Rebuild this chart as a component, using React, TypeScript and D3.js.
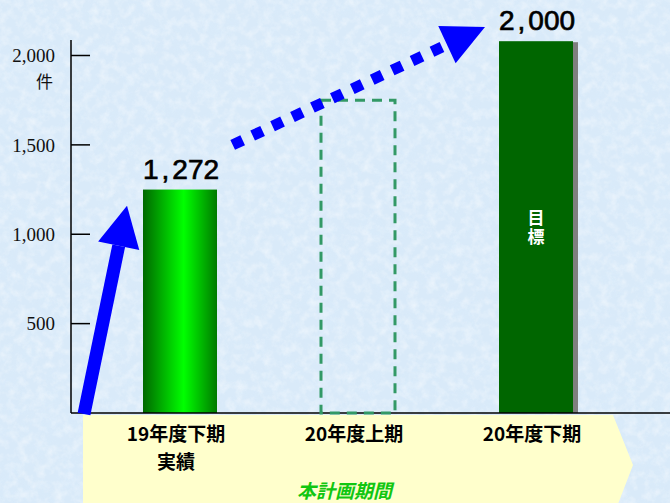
import React from "react";
import * as d3 from "d3";

const W = 670;
const H = 503;

const categories = ["19年度下期", "20年度上期", "20年度下期"];
const subLabels = ["実績", "", ""];
const barValues = [1250, 1750, 2080];
const valueLabels = ["1,272", "", "2,000"];
const barKinds = ["actual", "plan", "target"];
const yTicks = [500, 1000, 1500, 2000];
const periodLabel = "本計画期間";
const unitLabel = "件";
const targetLabel = "目標";

// arrows in data space: [y-value start, y-value end]
const solidArrowValues = [0, 1160];
const dottedArrowValues = [1500, 2160];

export default function App() {
  const y = d3.scaleLinear().domain([0, 2000]).range([413, 55.5]);
  const xCat = d3.scalePoint<string>().domain(categories).range([176, 532]);
  const barW = 74;
  const barOffset = 4;
  const axisX = 71;
  const fmt = d3.format(",");

  const arrowHead = (x1: number, y1: number, x2: number, y2: number, len: number, wid: number) => {
    const dx = x2 - x1, dy = y2 - y1;
    const L = Math.hypot(dx, dy);
    const ux = dx / L, uy = dy / L;
    const bx = x2 - ux * len, by = y2 - uy * len;
    const px = -uy, py = ux;
    return {
      base: [bx, by],
      path: d3.line()([
        [x2, y2],
        [bx + px * wid / 2, by + py * wid / 2],
        [bx - px * wid / 2, by - py * wid / 2],
      ]) + "Z",
    };
  };

  const s1 = [84, y(solidArrowValues[0]) + 1];
  const e1 = [127, y(solidArrowValues[1])];
  const h1 = arrowHead(s1[0], s1[1], e1[0], e1[1], 41, 42);

  const s2 = [232.7, y(dottedArrowValues[0])];
  const e2 = [485, y(dottedArrowValues[1])];
  const h2 = arrowHead(s2[0], s2[1], e2[0], e2[1], 42, 41);

  const pent = d3.line()([
    [83, 415],
    [613, 415],
    [633, 465],
    [613, 517],
    [83, 517],
  ]) + "Z";

  const splitComma = (s: string) => {
    const parts = s.split(",");
    return parts.map((p, k) => (
      <React.Fragment key={k}>
        {k > 0 ? <tspan dx={3}>,</tspan> : null}
        <tspan dx={k > 0 ? 3 : 0}>{p}</tspan>
      </React.Fragment>
    ));
  };

  return (
    <svg width={W} height={H} style={{ position: "absolute", left: 0, top: 0, display: "block" }}>
      <defs>
        <filter id="tex" x="0" y="0" width="100%" height="100%">
          <feTurbulence type="fractalNoise" baseFrequency="0.11" numOctaves="3" seed="7" result="n" />
          <feColorMatrix in="n" type="matrix" values="0 0 0 0 1  0 0 0 0 1  0 0 0 0 1  1.6 0 0 0 -0.65" />
        </filter>
        <filter id="tex2" x="0" y="0" width="100%" height="100%">
          <feTurbulence type="fractalNoise" baseFrequency="0.05" numOctaves="2" seed="21" result="n" />
          <feColorMatrix in="n" type="matrix" values="0 0 0 0 0.7  0 0 0 0 0.84  0 0 0 0 0.97  0 1.4 0 0 -0.6" />
        </filter>
        <linearGradient id="g1" x1="0" x2="1" y1="0" y2="0">
          <stop offset="0" stopColor="#006800" />
          <stop offset="0.55" stopColor="#00ff00" />
          <stop offset="1" stopColor="#007a00" />
        </linearGradient>
      </defs>
      <rect x={0} y={0} width={W} height={H} fill="#d9eaf9" />
      <rect x={0} y={0} width={W} height={H} filter="url(#tex2)" opacity={0.6} />
      <rect x={0} y={0} width={W} height={H} filter="url(#tex)" opacity={0.55} />

      <path d={pent} fill="#ffffcc" />

      {categories.map((c, i) => {
        const cx = (xCat(c) as number) + barOffset;
        const x0 = cx - barW / 2;
        const top = y(barValues[i]);
        const h = y(0) - top;
        if (barKinds[i] === "actual")
          return <rect key={c} x={x0} y={top} width={barW} height={h} fill="url(#g1)" />;
        if (barKinds[i] === "target")
          return (
            <g key={c}>
              <rect x={x0 + 5} y={top + 1} width={barW} height={h - 1} fill="#7f7f7f" />
              <rect x={x0} y={top} width={barW} height={h} fill="#006600" />
            </g>
          );
        return null;
      })}

      {/* axes */}
      <line x1={axisX} x2={axisX} y1={40} y2={y(0)} stroke="#000" strokeWidth={1.5} />
      <line x1={axisX} x2={W} y1={y(0)} y2={y(0)} stroke="#000" strokeWidth={1.5} />
      {yTicks.map((t) => (
        <g key={t}>
          <line x1={axisX} x2={90} y1={y(t)} y2={y(t)} stroke="#000" strokeWidth={1.5} />
          <text
            x={55}
            y={y(t)}
            dy="0.35em"
            textAnchor="end"
            fontFamily="'Liberation Serif', serif"
            fontSize={19}
            fill="#111"
          >
            {fmt(t)}
          </text>
        </g>
      ))}
      <text x={53} y={88} textAnchor="end" fontFamily="'Noto Sans CJK JP', sans-serif" fontSize={17} fill="#111">
        {unitLabel}
      </text>

      {/* dashed plan bar */}
      {categories.map((c, i) => {
        if (barKinds[i] !== "plan") return null;
        const cx = (xCat(c) as number) + barOffset;
        const x0 = cx - barW / 2;
        const top = y(barValues[i]);
        return (
          <rect
            key={c}
            x={x0}
            y={top}
            width={barW}
            height={y(0) - top}
            fill="none"
            stroke="#339966"
            strokeWidth={3}
            strokeDasharray="10 7"
          />
        );
      })}

      {/* value labels */}
      {categories.map((c, i) =>
        valueLabels[i] ? (
          <text
            key={c}
            x={(xCat(c) as number) + barOffset + 1}
            y={y(barValues[i]) - 11}
            textAnchor="middle"
            fontFamily="'Liberation Sans', Arial, sans-serif"
            fontSize={28}
            fill="#000"
            stroke="#000"
            strokeWidth={0.7}
          >
            {splitComma(valueLabels[i])}
          </text>
        ) : null
      )}

      {/* target text */}
      {categories.map((c, i) =>
        barKinds[i] === "target" ? (
          <text
            key={c}
            x={(xCat(c) as number) + barOffset}
            y={209}
            writingMode="tb"
            letterSpacing={2}
            fontFamily="'Noto Sans CJK JP', sans-serif"
            fontWeight="bold"
            fontSize={17}
            fill="#fff"
          >
            {targetLabel}
          </text>
        ) : null
      )}

      {/* category labels */}
      {categories.map((c, i) => (
        <g key={c}>
          <text
            x={xCat(c) as number}
            y={441}
            textAnchor="middle"
            fontFamily="'Noto Sans CJK JP', sans-serif"
            fontWeight="bold"
            fontSize={19}
            fill="#000"
          >
            {c}
          </text>
          {subLabels[i] ? (
            <text
              x={xCat(c) as number}
              y={469}
              textAnchor="middle"
              fontFamily="'Noto Sans CJK JP', sans-serif"
              fontWeight="bold"
              fontSize={19}
              fill="#000"
            >
              {subLabels[i]}
            </text>
          ) : null}
        </g>
      ))}
      <text
        x={344.5}
        y={498}
        textAnchor="middle"
        fontFamily="'Noto Sans CJK JP', sans-serif"
        fontWeight="bold"
        fontStyle="italic"
        fontSize={19}
        fill="#11c611"
      >
        {periodLabel}
      </text>

      {/* arrows */}
      <line x1={s1[0]} y1={s1[1]} x2={h1.base[0]} y2={h1.base[1]} stroke="#0000ff" strokeWidth={13} />
      <path d={h1.path} fill="#0000ff" />
      <line
        x1={s2[0]}
        y1={s2[1]}
        x2={h2.base[0]}
        y2={h2.base[1]}
        stroke="#0000ff"
        strokeWidth={11}
        strokeDasharray="11 11"
      />
      <path d={h2.path} fill="#0000ff" />
    </svg>
  );
}
